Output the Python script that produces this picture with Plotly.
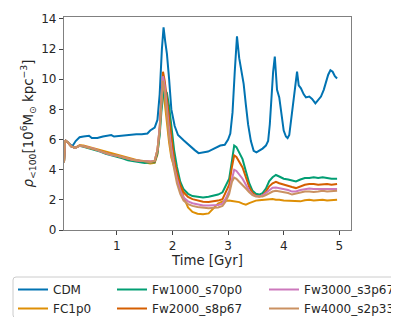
import plotly.graph_objects as go

# ---------------- data ----------------
t_cdm = [0.05, 0.07, 0.12, 0.2, 0.26, 0.33, 0.4, 0.5, 0.55, 0.65, 0.75, 0.85, 0.9, 0.95,
         1.05, 1.15, 1.25, 1.35, 1.45, 1.55, 1.6, 1.68, 1.73, 1.77, 1.81, 1.84, 1.87, 1.9,
         1.94, 1.98, 2.04, 2.1, 2.2, 2.3, 2.4, 2.47, 2.55, 2.64, 2.72, 2.8, 2.86, 2.94, 3.0,
         3.04, 3.08, 3.12, 3.16, 3.2, 3.24, 3.28, 3.32, 3.36, 3.41, 3.46, 3.51, 3.56, 3.62,
         3.68, 3.72, 3.75, 3.78, 3.81, 3.84, 3.86, 3.88, 3.92, 3.96, 4.0, 4.04, 4.07, 4.1,
         4.14, 4.18, 4.22, 4.24, 4.27, 4.31, 4.36, 4.4, 4.46, 4.51, 4.57, 4.62, 4.67, 4.72,
         4.76, 4.8, 4.84, 4.88, 4.92, 4.96]
cdm = [4.5, 5.95, 5.8, 5.55, 5.9, 6.15, 6.2, 6.25, 6.1, 6.1, 6.2, 6.25, 6.3, 6.2,
       6.25, 6.3, 6.3, 6.35, 6.35, 6.4, 6.6, 6.8, 7.3, 9.0, 12.0, 13.45, 12.5, 11.7,
       10.0, 8.0, 6.9, 6.3, 5.95, 5.6, 5.3, 5.1, 5.15, 5.2, 5.35, 5.5, 5.6, 5.65, 6.0,
       6.4, 7.8, 10.5, 12.85, 11.4, 10.6, 9.7, 8.3, 7.0, 5.9, 5.25, 5.15, 5.25, 5.4,
       5.6, 5.9, 7.0, 8.8, 10.5, 11.5, 10.5, 9.3, 8.8, 7.8, 6.6, 6.2, 6.1, 6.3,
       7.5, 8.9, 10.0, 10.5, 9.6, 9.4, 9.0, 8.8, 8.85, 8.7, 8.4, 8.6, 8.85, 9.3,
       9.85, 10.3, 10.6, 10.5, 10.2, 10.05]

t_wdm = [0.05, 0.07, 0.12, 0.18, 0.25, 0.33, 0.4, 0.5, 0.6, 0.7, 0.8, 0.9, 1.0, 1.1, 1.2,
         1.3, 1.4, 1.5, 1.6, 1.68, 1.73, 1.77, 1.8, 1.83, 1.86, 1.9, 1.94, 1.98, 2.03, 2.08,
         2.14, 2.2, 2.28, 2.36, 2.45, 2.55, 2.65, 2.75, 2.82, 2.9, 2.96, 3.02, 3.07, 3.11,
         3.15, 3.2, 3.26, 3.32, 3.38, 3.44, 3.5, 3.56, 3.62, 3.68, 3.74, 3.8, 3.86, 3.92,
         4.0, 4.08, 4.15, 4.22, 4.3, 4.38, 4.46, 4.54, 4.62, 4.7, 4.78, 4.86, 4.96]

fc1p0 = [4.5, 5.95, 5.8, 5.55, 5.45, 5.62, 5.6, 5.5, 5.4, 5.3, 5.15, 5.05, 4.98, 4.85, 4.75,
         4.68, 4.6, 4.5, 4.42,
         4.45, 5.0, 6.5, 8.3, 9.3, 8.5, 7.0, 5.8, 4.8, 4.2, 3.6, 2.9, 2.2, 1.5, 1.2, 1.08,
         1.04, 1.1, 1.45, 1.75, 1.9, 1.95, 1.95, 1.93, 1.9, 1.88, 1.85, 1.75, 1.68, 1.78,
         1.88, 1.95, 1.98, 2.0, 2.0, 2.02, 2.05, 2.0, 2.0, 1.95, 1.93, 1.95, 1.92, 1.9, 1.97,
         2.0, 1.95, 1.97, 2.0, 1.95, 1.97, 2.0]
fw1000 = [4.5, 5.95, 5.8, 5.55, 5.45, 5.58, 5.52, 5.42, 5.35, 5.2, 5.05, 4.95, 4.88, 4.75, 4.62,
          4.55, 4.5, 4.45, 4.5,
          4.5, 5.1, 6.3, 7.8, 8.9, 9.3, 9.1, 8.2, 6.8, 5.3, 4.2, 3.2, 2.7, 2.4, 2.25, 2.2,
          2.15, 2.2, 2.3, 2.35, 2.5, 2.9, 3.4, 4.6, 5.6, 5.5, 5.1, 4.7, 3.9, 3.1, 2.6, 2.4,
          2.35, 2.45, 2.75, 3.25, 3.5, 3.65, 3.55, 3.4, 3.35, 3.3, 3.22, 3.35, 3.45, 3.45,
          3.5, 3.45, 3.5, 3.45, 3.4, 3.4]
fw2000 = [4.5, 5.95, 5.8, 5.55, 5.45, 5.6, 5.55, 5.45, 5.4, 5.25, 5.1, 5.0, 4.95, 4.85, 4.75,
          4.65, 4.6, 4.55, 4.55,
          4.55, 5.3, 6.8, 9.0, 10.5, 9.9, 8.6, 7.2, 5.9, 4.7, 3.8, 3.0, 2.5, 2.2, 2.05, 1.95,
          1.88, 1.85, 1.9, 1.95, 2.05, 2.5, 3.0, 4.2, 4.95, 4.85, 4.5, 4.15, 3.5, 2.85, 2.45,
          2.28, 2.22, 2.3, 2.55, 2.9, 3.1, 3.2, 3.1, 3.0, 2.95, 2.85, 2.78, 2.9, 3.0, 3.05,
          3.05, 3.0, 3.05, 3.05, 3.0, 3.05]
fw3000 = [4.5, 5.95, 5.8, 5.55, 5.45, 5.58, 5.55, 5.45, 5.38, 5.22, 5.08, 4.98, 4.92, 4.82, 4.72,
          4.65, 4.6, 4.55, 4.55,
          4.6, 5.3, 6.8, 8.8, 10.2, 9.6, 8.0, 6.6, 5.4, 4.2, 3.4, 2.6, 2.15, 1.9, 1.78, 1.68,
          1.62, 1.62, 1.65, 1.66, 1.75, 2.1, 2.6, 3.5, 4.0, 3.92, 3.7, 3.4, 3.0, 2.6, 2.35,
          2.25, 2.22, 2.28, 2.45, 2.65, 2.8, 2.82, 2.78, 2.72, 2.65, 2.55, 2.55, 2.65, 2.72,
          2.75, 2.72, 2.72, 2.75, 2.72, 2.7, 2.72]
fw4000 = [4.5, 5.95, 5.8, 5.55, 5.45, 5.6, 5.55, 5.45, 5.4, 5.25, 5.1, 5.0, 4.95, 4.85, 4.75,
          4.65, 4.62, 4.55, 4.5,
          4.6, 5.3, 6.6, 8.5, 9.9, 9.2, 7.5, 6.1, 5.0, 3.9, 3.1, 2.4, 1.95, 1.72, 1.6, 1.52,
          1.46, 1.45, 1.48, 1.5, 1.6, 1.9, 2.4, 3.2, 3.48, 3.4, 3.2, 3.0, 2.75, 2.5, 2.32,
          2.22, 2.2, 2.22, 2.32, 2.45, 2.55, 2.6, 2.56, 2.52, 2.45, 2.35, 2.4, 2.5, 2.55,
          2.55, 2.52, 2.55, 2.6, 2.55, 2.55, 2.6]

names = ["CDM", "FC1p0", "Fw1000_s70p0", "Fw2000_s8p67", "Fw3000_s3p67", "Fw4000_s2p33"]
colors = ["#0173B2", "#DE8F05", "#029E73", "#D55E00", "#CC78BC", "#CA9161"]
x_ticks = [1, 2, 3, 4, 5]
y_ticks = [0, 2, 4, 6, 8, 10, 12, 14]

series = [(t_cdm, cdm), (t_wdm, fc1p0), (t_wdm, fw1000), (t_wdm, fw2000),
          (t_wdm, fw3000), (t_wdm, fw4000)]
for tx, v in series:
    assert len(tx) == len(v)

# legend placement: column 1 = CDM, FC1p0 ; column 2 = Fw1000, Fw2000 ; column 3 = Fw3000, Fw4000
legend_of = ["legend", "legend", "legend2", "legend2", "legend3", "legend3"]

# ---------------- figure ----------------
W, H = 399, 317
L, R, T, B = 56, 56, 9, 95
pw, ph = W - L - R, H - T - B


def px_x(p):
    return (p - L) / pw


def px_y(p):
    return (H - B - p) / ph


fig = go.Figure()
for (tx, v), name, col, lg in zip(series, names, colors, legend_of):
    fig.add_trace(go.Scatter(x=tx, y=v, mode="lines", name=name,
                             line=dict(color=col, width=2), legend=lg))

txt = "#262626"
tick_font = dict(family="DejaVu Sans", size=12, color=txt)
title_font = dict(family="DejaVu Sans", size=13.3, color=txt)
leg_font = dict(family="DejaVu Sans", size=12, color=txt)
leg_common = dict(orientation="v", font=leg_font, bgcolor="rgba(0,0,0,0)", borderwidth=0,
                  itemwidth=30, xanchor="left", yanchor="top", tracegroupgap=0)
leg_top = px_y(267)

fig.update_layout(
    width=W, height=H,
    margin=dict(l=L, r=R, t=T, b=B, autoexpand=False),
    paper_bgcolor="white", plot_bgcolor="white",
    font=tick_font,
    legend=dict(x=px_x(5), y=leg_top, **leg_common),
    legend2=dict(x=px_x(104), y=leg_top, **leg_common),
    legend3=dict(x=px_x(256), y=leg_top, **leg_common),
    xaxis=dict(range=[0.05, 5.21], tickvals=x_ticks, ticks="outside", ticklen=4,
               tickcolor="#444", showline=True, linecolor="#808080", linewidth=1.3,
               mirror=True, showgrid=False, zeroline=False, tickfont=tick_font,
               title=dict(text="Time [Gyr]", font=title_font, standoff=3)),
    yaxis=dict(range=[0, 14.13], tickvals=y_ticks, ticks="outside", ticklen=4,
               tickcolor="#444", showline=True, linecolor="#808080", linewidth=1.3,
               mirror=True, showgrid=False, zeroline=False, tickfont=tick_font,
               title=dict(text="<i>ρ</i><sub>&lt;100</sub>[10<sup>6</sup>M<sub>⊙</sub> kpc<sup>−3</sup>]",
                          font=title_font, standoff=4)),
)

# legend frame (rounded rectangle) around the three legend columns
x0, x1, y0, y1 = px_x(5), px_x(389), px_y(269), px_y(310)
rx, ry = 3 / pw, 3 / ph
path = (f"M {x0+rx},{y0} L {x1-rx},{y0} Q {x1},{y0} {x1},{y0-ry} "
        f"L {x1},{y1+ry} Q {x1},{y1} {x1-rx},{y1} L {x0+rx},{y1} Q {x0},{y1} {x0},{y1+ry} "
        f"L {x0},{y0-ry} Q {x0},{y0} {x0+rx},{y0} Z")
fig.add_shape(type="path", path=path, xref="paper", yref="paper",
              line=dict(color="#cccccc", width=1), fillcolor="rgba(0,0,0,0)", layer="below")

fig.write_html("out.html")
